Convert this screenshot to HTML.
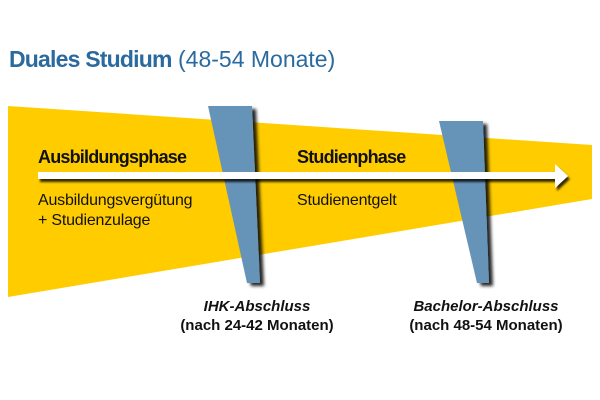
<!DOCTYPE html>
<html>
<head>
<meta charset="utf-8">
<style>
  html,body{margin:0;padding:0;background:#fff;}
  svg{display:block;}
  text{font-family:"Liberation Sans", sans-serif;}
</style>
</head>
<body>
<svg width="600" height="400" viewBox="0 0 600 400" xmlns="http://www.w3.org/2000/svg">
  <defs>
    <filter id="ws" x="-20%" y="-10%" width="150%" height="130%">
      <feDropShadow dx="4" dy="3" stdDeviation="1.5" flood-color="#000" flood-opacity="0.85"/>
    </filter>
    <filter id="as" x="-5%" y="-50%" width="110%" height="250%">
      <feDropShadow dx="2" dy="3" stdDeviation="1" flood-color="#000" flood-opacity="0.8"/>
    </filter>
  </defs>
  <rect width="600" height="400" fill="#fff"/>
  <text x="9" y="67" font-size="23" fill="#2a6a9e"><tspan font-weight="bold" letter-spacing="-0.8">Duales Studium</tspan><tspan font-size="23"> (48-54 Monate)</tspan></text>

  <polygon points="8,106 592,145 592,199 8,297" fill="#ffcc00"/>

  <polygon points="208,106 252,106 260,283 247,283" fill="#6694b9" filter="url(#ws)"/>
  <polygon points="439,121 483,121 489,283 477,283" fill="#6694b9" filter="url(#ws)"/>

  <g filter="url(#as)">
    <rect x="38" y="172" width="518" height="7" fill="#fff"/>
    <polygon points="555,164 568,176 555,188" fill="#fff"/>
  </g>

  <text x="38" y="163" font-size="18" font-weight="bold" letter-spacing="-0.8" fill="#111">Ausbildungsphase</text>
  <text x="297" y="163" font-size="18" font-weight="bold" letter-spacing="-0.8" fill="#111">Studienphase</text>
  <text x="38" y="205" font-size="16" letter-spacing="-0.2" fill="#111">Ausbildungsvergütung</text>
  <text x="38" y="225" font-size="16" letter-spacing="-0.2" fill="#111">+ Studienzulage</text>
  <text x="297" y="205" font-size="16" letter-spacing="-0.2" fill="#111">Studienentgelt</text>

  <text x="257" y="311" font-size="15" font-weight="bold" font-style="italic" text-anchor="middle" fill="#111">IHK-Abschluss</text>
  <text x="257" y="330" font-size="15" font-weight="bold" text-anchor="middle" fill="#111">(nach 24-42 Monaten)</text>
  <text x="486" y="311" font-size="15" font-weight="bold" font-style="italic" text-anchor="middle" fill="#111">Bachelor-Abschluss</text>
  <text x="486" y="330" font-size="15" font-weight="bold" text-anchor="middle" fill="#111">(nach 48-54 Monaten)</text>
</svg>
</body>
</html>
